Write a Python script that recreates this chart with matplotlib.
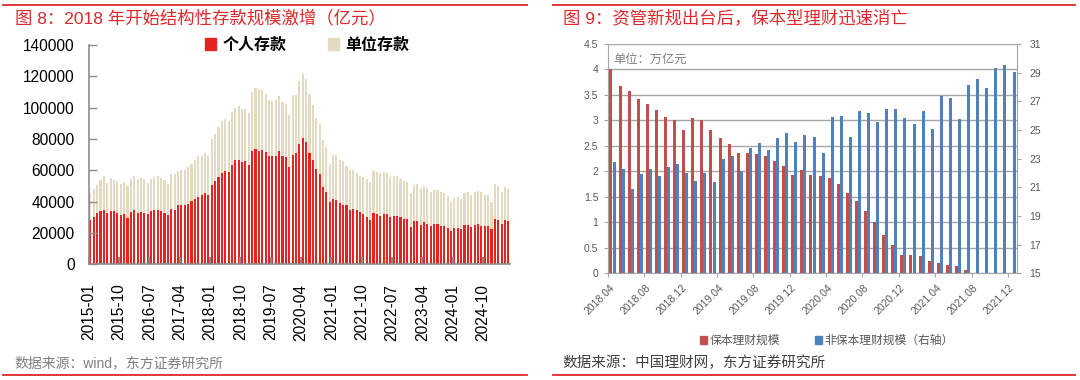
import matplotlib
matplotlib.use('Agg')
import matplotlib.pyplot as plt
import numpy as np
import pandas as pd
from matplotlib.patches import Patch
from matplotlib.lines import Line2D

plt.rcParams['font.family'] = ['Liberation Sans', 'Noto Sans CJK SC', 'DejaVu Sans']

# ---------------- data: left panel (亿元) ----------------
months_left = [p.strftime('%Y-%m') for p in pd.period_range('2015-01', '2025-05', freq='M')]
personal = [
    28300, 30200, 32500, 34200, 34900, 32500, 34200, 34200, 32500, 31500, 32100, 29800,
    33200, 34600, 32700, 33400, 32700, 31900, 34200, 34600, 34600, 34000, 32900, 31500,
    35300, 34900, 37800, 37800, 37800, 38700, 40200, 41700, 43100, 44000, 45500, 44000,
    50600, 52900, 55500, 58200, 59300, 59100, 63500, 66300, 66300, 65500, 65700, 63100,
    72500, 73500, 72500, 73100, 71600, 68900, 68900, 69300, 72300, 68900, 68400, 62300,
    69900, 70800, 76900, 80500, 77800, 70800, 66300, 61000, 57400, 49500, 46300, 40000,
    41400, 41000, 38900, 38000, 37600, 34900, 35500, 34900, 33200, 31900, 30400, 28300,
    32900, 31900, 31000, 32100, 31900, 30000, 31000, 31000, 30000, 29100, 28700, 23800,
    27400, 27400, 25300, 27000, 25900, 24700, 25700, 25700, 24700, 24200, 23400, 21000,
    23000, 23000, 22300, 25300, 25300, 24000, 25100, 25700, 24200, 24200, 24200, 22300,
    29100, 28300, 25700, 28300, 27400]
unit = [
    17200, 18000, 18300, 19800, 21200, 19400, 20600, 19600, 20400, 19900, 20400, 20400,
    21200, 21500, 21700, 21900, 21700, 20000, 20200, 21300, 21900, 21300, 20700, 19900,
    22100, 22500, 21900, 22600, 22300, 23600, 24000, 24600, 26200, 24900, 25500, 25500,
    29300, 30400, 32300, 33400, 33400, 32700, 33800, 33800, 34900, 33500, 33500, 33200,
    37400, 38900, 39500, 38300, 37000, 36100, 35400, 35500, 35400, 34600, 33800, 33100,
    38300, 37400, 39800, 40800, 40400, 37600, 35500, 32700, 32100, 30000, 28900, 24200,
    28500, 28900, 27800, 27700, 25300, 25500, 24900, 23300, 22900, 23800, 24100, 24000,
    26800, 26800, 27200, 27000, 26300, 25700, 25100, 25100, 24400, 24200, 23800, 21700,
    23200, 23600, 23600, 22900, 23000, 21400, 21700, 21500, 21600, 21300, 20400, 18700,
    19500, 19900, 19600, 20200, 21000, 20400, 21200, 21300, 22100, 20200, 19800, 17400,
    22300, 21400, 20400, 21200, 20600]
left_tick_labels = ['2015-01', '2015-10', '2016-07', '2017-04', '2018-01', '2018-10', '2019-07',
                    '2020-04', '2021-01', '2021-10', '2022-07', '2023-04', '2024-01', '2024-10']

# ---------------- data: right panel (万亿元) ----------------
months_right = [p.strftime('%Y.%m') for p in pd.period_range('2018-04', '2021-12', freq='M')]
guaranteed = [4.00, 3.67, 3.57, 3.43, 3.33, 3.20, 3.06, 3.01, 2.82, 3.05, 3.00, 2.82,
              2.65, 2.53, 2.37, 2.36, 2.34, 2.31, 2.21, 2.10, 1.93, 2.03, 1.93, 1.91,
              1.88, 1.75, 1.58, 1.42, 1.23, 1.01, 0.75, 0.56, 0.36, 0.36, 0.33, 0.25,
              0.20, 0.17, 0.14, 0.07, 0.01, 0.0, 0.0, 0.0, 0.0]
non_guaranteed = [22.79, 22.28, 20.86, 21.93, 22.30, 21.77, 22.42, 22.63, 22.02, 21.47, 22.02, 21.35,
                  22.95, 23.21, 22.16, 23.77, 24.12, 23.58, 24.42, 24.79, 24.19, 24.67, 24.53, 23.37,
                  25.93, 25.95, 24.49, 26.35, 26.21, 25.56, 26.49, 26.44, 25.84, 25.42, 26.33, 25.05,
                  27.40, 27.21, 25.79, 28.12, 28.53, 27.95, 29.30, 29.51, 29.02]
right_tick_labels = ['2018.04', '2018.08', '2018.12', '2019.04', '2019.08', '2019.12',
                     '2020.04', '2020.08', '2020.12', '2021.04', '2021.08', '2021.12']

W, H = 1080, 380
fig = plt.figure(figsize=(W / 100, H / 100), dpi=100)


def rect(l, t, r, b):
    return [l / W, 1 - b / H, (r - l) / W, (b - t) / H]


def fx(x):
    return x / W


def fy(y):
    return 1 - y / H


RED = '#E0282B'

# decorative red lines
for (x0, x1_) in [(3, 527), (553, 1075)]:
    fig.add_artist(Line2D([fx(x0), fx(x1_)], [fy(5), fy(5)], color=RED, lw=1.3, transform=fig.transFigure))
    fig.add_artist(Line2D([fx(x0), fx(x1_)], [fy(375), fy(375)], color=RED, lw=1.3, transform=fig.transFigure))

fig.text(fx(15), fy(18), '图 8：2018 年开始结构性存款规模激增（亿元）', color=RED, fontsize=12.5,
         va='center', ha='left')
fig.text(fx(563), fy(18), '图 9：资管新规出台后，保本型理财迅速消亡', color=RED, fontsize=12.5,
         va='center', ha='left')
fig.text(fx(14), fy(363), '数据来源：wind，东方证券研究所', color='#7F7F7F', fontsize=10,
         va='center', ha='left')
fig.text(fx(562), fy(363), '数据来源：中国理财网，东方证券研究所', color='#404040', fontsize=10.5,
         va='center', ha='left')

# ---------------- left panel ----------------
ax1 = fig.add_axes(rect(88.7, 45, 510, 264.3))
xl = np.arange(len(months_left))
ax1.bar(xl, personal, width=0.62, color='#E52421', linewidth=0)
ax1.bar(xl, unit, width=0.62, bottom=personal, color='#E4DAC2', linewidth=0)
ax1.set_xlim(-0.5, len(xl) - 0.5)
ax1.set_ylim(0, 140000)
yt = np.arange(0, 140001, 20000)
ax1.set_yticks(yt)
ax1.set_yticklabels([str(v) for v in yt])
xpos = [months_left.index(m) - 0.5 for m in left_tick_labels]
ax1.set_xticks(xpos)
ax1.set_xticklabels(left_tick_labels, rotation=90)
ax1.tick_params(axis='x', direction='in', length=5, width=1.5, color='#8C8C8C', pad=14, labelsize=11.2)
ax1.tick_params(axis='y', direction='in', length=6, width=1, color='#8C8C8C', pad=10, labelsize=11.2)
for s in ['top', 'right']:
    ax1.spines[s].set_visible(False)
for s in ['left', 'bottom']:
    ax1.spines[s].set_color('#8C8C8C')
    ax1.spines[s].set_linewidth(1.2)

fig.legend(handles=[Patch(color='#E52421', label='个人存款'), Patch(color='#E4DAC2', label='单位存款')],
           loc='center', bbox_to_anchor=(fx(307), fy(45)), ncol=2, frameon=False,
           prop={'size': 11.5, 'weight': 'bold'}, handlelength=0.7, handleheight=0.7,
           handletextpad=0.4, columnspacing=2.6, borderpad=0)

# ---------------- right panel ----------------
GRID = '#A6A6A6'
ax2 = fig.add_axes(rect(608, 44, 1017, 273.3))
ax3 = ax2.twinx()
xr = np.arange(len(months_right))
ax2.bar(xr - 0.17, guaranteed, width=0.33, color='#C0504D', linewidth=0, zorder=2)
ax3.bar(xr + 0.17, non_guaranteed, width=0.33, color='#4F81BD', linewidth=0, zorder=2)
ax2.set_xlim(-0.5, len(xr) - 0.5)
ax2.set_ylim(0, 4.5)
ax3.set_ylim(15, 31)
lt = np.arange(0, 4.51, 0.5)
ax2.set_yticks(lt)
ax2.set_yticklabels([('%g' % v) for v in lt])
rt = np.arange(15, 32, 2)
ax3.set_yticks(rt)
ax3.set_yticklabels([str(v) for v in rt])
ax2.yaxis.grid(True, color=GRID, lw=1)
ax2.set_axisbelow(True)
centers = [months_right.index(m) for m in right_tick_labels]
ax2.set_xticks([c - 0.5 for c in centers])
ax2.set_xticklabels([])
ax2.set_xticks(centers, minor=True)
ax2.set_xticklabels(right_tick_labels, minor=True, rotation=45, ha='right', va='center',
                    rotation_mode='anchor')
ax2.tick_params(axis='x', which='major', direction='out', length=3, color=GRID)
ax2.tick_params(axis='x', which='minor', length=0, pad=9, labelsize=7.5, labelcolor='#595959')
ax2.tick_params(axis='y', direction='out', length=3, color=GRID, labelsize=7.5,
                labelcolor='#595959', pad=4)
ax3.tick_params(axis='y', direction='out', length=3, color=GRID, labelsize=7.5,
                labelcolor='#595959', pad=6)
for s in ['top', 'right']:
    ax2.spines[s].set_visible(False)
for s in ['left', 'bottom']:
    ax2.spines[s].set_color(GRID)
for s in ['top', 'left', 'bottom']:
    ax3.spines[s].set_visible(False)
ax3.spines['right'].set_color(GRID)

fig.text(fx(613), fy(60), '单位：万亿元', color='#7F7F7F', fontsize=8.8, va='center', ha='left')

fig.legend(handles=[Patch(color='#C0504D', label='保本理财规模'),
                    Patch(color='#4F81BD', label='非保本理财规模（右轴）')],
           loc='center', bbox_to_anchor=(fx(827), fy(341)), ncol=2, frameon=False,
           fontsize=8.5, labelcolor='#595959', handlelength=0.6, handleheight=0.6,
           handletextpad=0.2, columnspacing=3.0, borderpad=0)

fig.savefig('out.png', dpi=100)
